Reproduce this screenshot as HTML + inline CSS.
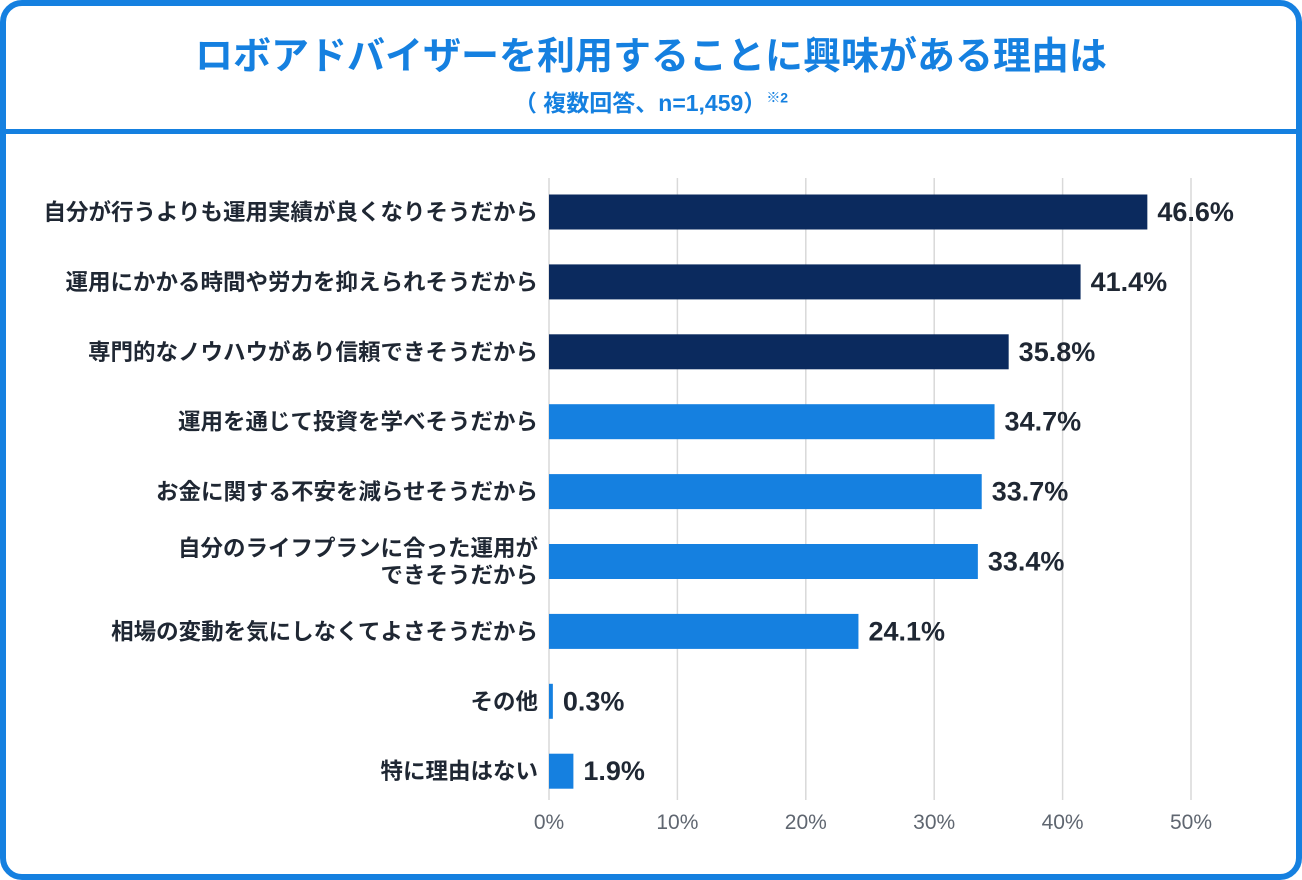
<!DOCTYPE html>
<html><head><meta charset="utf-8">
<style>
html,body{margin:0;padding:0;width:1302px;height:880px;overflow:hidden;background:#fff}
#frame{position:absolute;left:0;top:0;width:1290px;height:868px;border:6px solid #1580e0;border-radius:22px;}
#hline{position:absolute;left:0;top:129px;width:1302px;height:5px;background:#1580e0}
.t{font-family:"Liberation Sans","Noto Sans CJK JP",sans-serif}
#title{position:absolute;left:0;width:1302px;top:25px;text-align:center;font-size:38px;font-weight:bold;color:#1580e0}
#sub{position:absolute;left:0;width:1302px;top:84px;text-align:center;font-size:23px;font-weight:bold;color:#1580e0}
svg{position:absolute;left:0;top:0}
</style></head><body>
<div id="frame"></div>
<div id="hline"></div>
<div id="title" class="t">ロボアドバイザーを利用することに興味がある理由は</div>
<div id="sub" class="t">（ 複数回答、n=1,459）<sup style="font-size:14px">※2</sup></div>
<svg id="chart" width="1302" height="880"></svg>
<script>
const categories=[["自分が行うよりも運用実績が良くなりそうだから"],["運用にかかる時間や労力を抑えられそうだから"],["専門的なノウハウがあり信頼できそうだから"],["運用を通じて投資を学べそうだから"],["お金に関する不安を減らせそうだから"],["自分のライフプランに合った運用が","できそうだから"],["相場の変動を気にしなくてよさそうだから"],["その他"],["特に理由はない"]];
const values=[46.6,41.4,35.8,34.7,33.7,33.4,24.1,0.3,1.9];
const highlight=[1,1,1,0,0,0,0,0,0];
const ticks=[0,10,20,30,40,50];
const ns="http://www.w3.org/2000/svg";
const svg=document.getElementById('chart');
const x=v=>549+v*12.84;
const y=i=>212+i*69.9;
const F='"Liberation Sans","Noto Sans CJK JP",sans-serif';
function mk(t,a){const e=document.createElementNS(ns,t);for(const k in a)e.setAttribute(k,a[k]);svg.appendChild(e);return e;}
ticks.forEach(t=>{
 const g=mk('line',{x1:x(t),x2:x(t),y1:178,y2:800,stroke:'#d9d9d9','stroke-width':1.5});
 
 
 const l=mk('text',{x:x(t),y:829,'text-anchor':'middle','font-size':21,fill:'#5f6670','font-family':F});
 l.textContent=t+'%';
 
 
});
values.forEach((v,i)=>{
 const b=mk('rect',{x:x(0),y:y(i)-17.5,width:Math.max(x(v)-x(0),2.5),height:35,fill:highlight[i]?'#0b2a5e':'#1580e0'});
 
 
 const vl=mk('text',{x:x(v)+10,y:y(i)+9,'font-size':27,'font-weight':'bold',fill:'#1f2733','font-family':F});
 vl.textContent=v.toFixed(1)+'%';
 
 
 const lines=categories[i];
 lines.forEach((s,j)=>{
  const c=mk('text',{x:538,y:y(i)+8+(j-(lines.length-1)/2)*27,'text-anchor':'end','font-size':22.5,'font-weight':'bold',fill:'#1f2733','font-family':F});
  c.textContent=s;
  
  
 });
});
</script>
</body></html>
